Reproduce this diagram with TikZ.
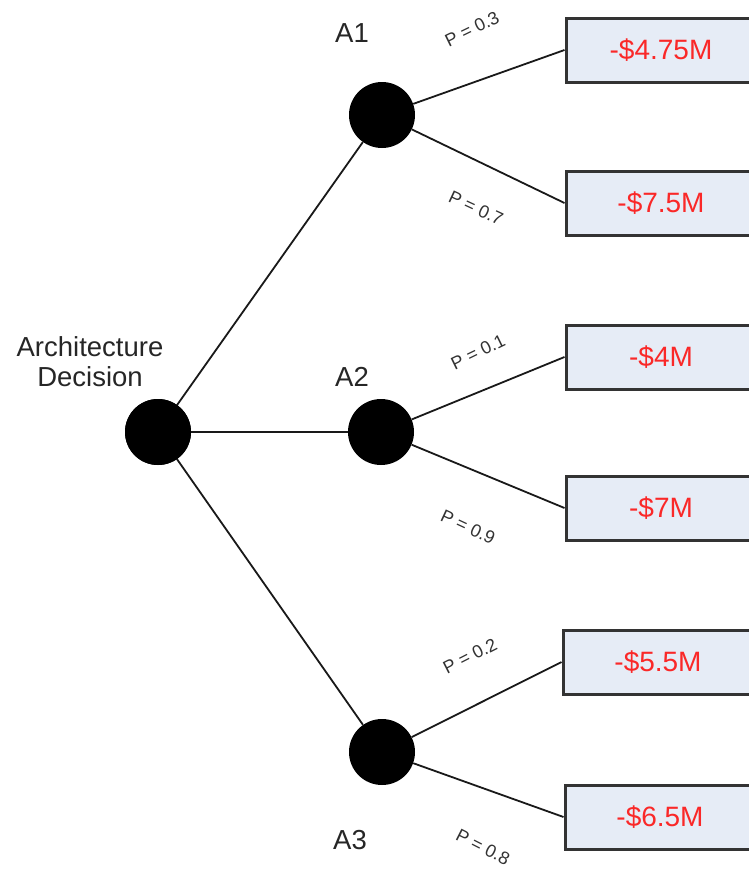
\documentclass[tikz,border=0pt]{standalone}
\usepackage{fontspec}
\setmainfont{Liberation Sans}
\usetikzlibrary{shadows}
\definecolor{boxfill}{RGB}{230,236,246}
\definecolor{payred}{RGB}{250,40,40}
\definecolor{probgray}{RGB}{50,50,50}
\newcommand{\probtext}[1]{P\hspace{5pt}=\hspace{5pt}#1}
\tikzset{
  chance/.style={circle, fill=black, draw=none, minimum size=66pt, inner sep=0pt},
  payoff/.style={rectangle, fill=boxfill, draw=black!80, line width=3pt,
    minimum width=190pt, minimum height=64pt, inner sep=0pt,
    font=\fontsize{28}{30}\selectfont, text=payred,
    drop shadow={shadow xshift=1.5pt, shadow yshift=-1.5pt, opacity=0.5}},
  branch/.style={draw=black!90, line width=1.8pt},
  altlabel/.style={font=\fontsize{27.5}{30}\selectfont, text=black!85},
  prob/.style={font=\fontsize{18}{20}\selectfont, text=probgray, inner sep=0pt}
}
\begin{document}
\begin{tikzpicture}[x=1pt, y=-1pt]
\useasboundingbox (0,0) rectangle (749,871);
\begin{scope}
\clip (0,0) rectangle (749,871);

% root decision and the three alternatives
\node[chance] (root) at (158,432) {};
\node[chance] (a1) at (382,115) {};
\node[chance] (a2) at (381,432) {};
\node[chance] (a3) at (382,752) {};

% payoff boxes (right side runs off the page edge)
\node[payoff] (o1) at (661,50) {-\$4.75M};
\node[payoff] (o2) at (661,203) {-\$7.5M};
\node[payoff] (o3) at (661,357) {-\$4M};
\node[payoff] (o4) at (661,508) {-\$7M};
\node[payoff] (o5) at (658,662) {-\$5.5M};
\node[payoff] (o6) at (660,817) {-\$6.5M};

% branches
\draw[branch] (root.center) -- (a1);
\draw[branch] (root) -- (a2);
\draw[branch] (root.center) -- (a3);
\draw[branch] (a1) -- (o1.west);
\draw[branch] (a1) -- (o2.west);
\draw[branch] (a2) -- (o3.west);
\draw[branch] (a2) -- (o4.west);
\draw[branch] (a3) -- (o5.west);
\draw[branch] (a3) -- (o6.west);
\node[chance] at (root) {};

% labels
\node[altlabel, align=center] (dec) at (90,362) {Architecture\\Decision};
\node[altlabel] (l1) at (352,33) {A1};
\node[altlabel] (l2) at (352,377) {A2};
\node[altlabel] (l3) at (350,840) {A3};

% probabilities
\node[prob, rotate=26] (p1) at (472,29) {\probtext{0.3}};
\node[prob, rotate=-25] (p2) at (476,208) {\probtext{0.7}};
\node[prob, rotate=26] (p3) at (478,352) {\probtext{0.1}};
\node[prob, rotate=-25] (p4) at (468,527) {\probtext{0.9}};
\node[prob, rotate=27] (p5) at (470,656) {\probtext{0.2}};
\node[prob, rotate=-27] (p6) at (483,847) {\probtext{0.8}};
\end{scope}
\end{tikzpicture}
\end{document}
